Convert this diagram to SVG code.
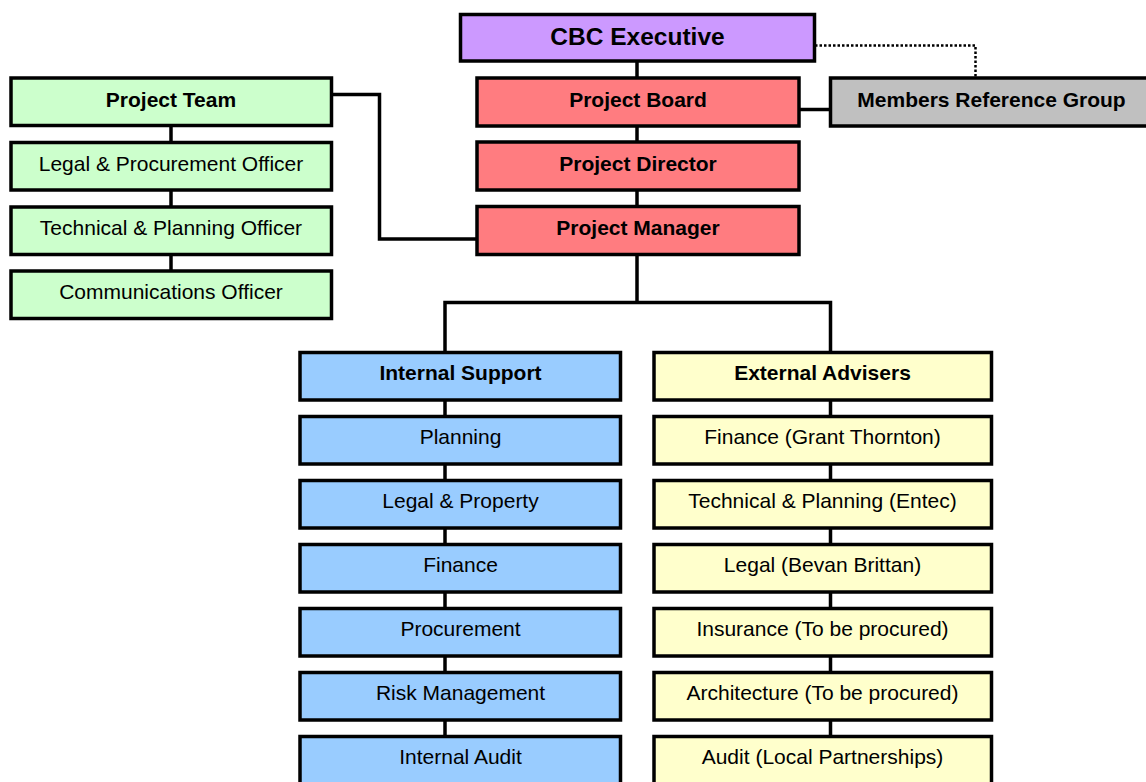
<svg xmlns="http://www.w3.org/2000/svg" width="1146" height="782" viewBox="0 0 1146 782">
<style>
.box{stroke:#000;stroke-width:3.5}
.t{font-family:"Liberation Sans",Arial,sans-serif;font-size:21px;fill:#000;text-anchor:middle}
.b{font-weight:bold}
.purple{fill:#CC99FF}.red{fill:#FF7C80}.grey{fill:#C0C0C0}.green{fill:#CCFFCC}.blue{fill:#99CCFF}.yellow{fill:#FFFFCC}
.c{fill:none;stroke:#000;stroke-width:3.5}
.d{fill:none;stroke:#000;stroke-width:2.5;stroke-dasharray:2.5 2}
</style>
<rect width="1146" height="782" fill="#fff"/>
<g id="connectors">
<path class="d" d="M815,45.5 H975.5 V78"/>
<path class="c" d="M637,61 V206"/>
<path class="c" d="M799,109.5 H830"/>
<path class="c" d="M331,94.5 H379.5 V239 H477"/>
<path class="c" d="M171,125 V271"/>
<path class="c" d="M637,254 V302.5 M445,352 V302.5 H830.5 V352"/>
<path class="c" d="M445,400 V736"/>
<path class="c" d="M830.5,400 V736"/>
</g>
<g id="cbc-executive"><rect class="box purple" x="460.5" y="14.5" width="354" height="46.5"/><text class="t b" x="637.5" y="45" style="font-size:24.5px">CBC Executive</text></g>
<g id="project-board"><rect class="box red" x="477" y="78" width="322" height="48"/><text class="t b" x="638" y="106.5">Project Board</text></g>
<g id="members-reference-group"><rect class="box grey" x="830.5" y="78" width="323" height="48"/><text class="t b" x="991.5" y="106.5">Members Reference Group</text></g>
<g id="project-director"><rect class="box red" x="477" y="142" width="322" height="48"/><text class="t b" x="638" y="170.5">Project Director</text></g>
<g id="project-manager"><rect class="box red" x="477" y="206.5" width="322" height="48"/><text class="t b" x="638" y="235">Project Manager</text></g>
<g id="project-team"><rect class="box green" x="11" y="78" width="320.5" height="47.5"/><text class="t b" x="171" y="106.5">Project Team</text></g>
<g id="legal-procurement-officer"><rect class="box green" x="11" y="142.5" width="320.5" height="47.5"/><text class="t" x="171" y="170.5">Legal &amp; Procurement Officer</text></g>
<g id="technical-planning-officer"><rect class="box green" x="11" y="207" width="320.5" height="47.5"/><text class="t" x="171" y="235">Technical &amp; Planning Officer</text></g>
<g id="communications-officer"><rect class="box green" x="11" y="271" width="320.5" height="47.5"/><text class="t" x="171" y="299">Communications Officer</text></g>
<g id="internal-support"><rect class="box blue" x="300" y="352.5" width="320.5" height="47.5"/><text class="t b" x="460.5" y="380">Internal Support</text></g>
<g id="planning"><rect class="box blue" x="300" y="416.5" width="320.5" height="47.5"/><text class="t" x="460.5" y="444">Planning</text></g>
<g id="legal-property"><rect class="box blue" x="300" y="480.5" width="320.5" height="47.5"/><text class="t" x="460.5" y="508">Legal &amp; Property</text></g>
<g id="finance"><rect class="box blue" x="300" y="544.5" width="320.5" height="47.5"/><text class="t" x="460.5" y="572">Finance</text></g>
<g id="procurement"><rect class="box blue" x="300" y="608.5" width="320.5" height="47.5"/><text class="t" x="460.5" y="636">Procurement</text></g>
<g id="risk-management"><rect class="box blue" x="300" y="672.5" width="320.5" height="47.5"/><text class="t" x="460.5" y="700">Risk Management</text></g>
<g id="internal-audit"><rect class="box blue" x="300" y="736.5" width="320.5" height="47.5"/><text class="t" x="460.5" y="764">Internal Audit</text></g>
<g id="external-advisers"><rect class="box yellow" x="654" y="352.5" width="337.5" height="47.5"/><text class="t b" x="822.5" y="380">External Advisers</text></g>
<g id="finance-gt"><rect class="box yellow" x="654" y="416.5" width="337.5" height="47.5"/><text class="t" x="822.5" y="444">Finance (Grant Thornton)</text></g>
<g id="technical-planning-entec"><rect class="box yellow" x="654" y="480.5" width="337.5" height="47.5"/><text class="t" x="822.5" y="508">Technical &amp; Planning (Entec)</text></g>
<g id="legal-bevan-brittan"><rect class="box yellow" x="654" y="544.5" width="337.5" height="47.5"/><text class="t" x="822.5" y="572">Legal (Bevan Brittan)</text></g>
<g id="insurance"><rect class="box yellow" x="654" y="608.5" width="337.5" height="47.5"/><text class="t" x="822.5" y="636">Insurance (To be procured)</text></g>
<g id="architecture"><rect class="box yellow" x="654" y="672.5" width="337.5" height="47.5"/><text class="t" x="822.5" y="700">Architecture (To be procured)</text></g>
<g id="audit"><rect class="box yellow" x="654" y="736.5" width="337.5" height="47.5"/><text class="t" x="822.5" y="764">Audit (Local Partnerships)</text></g>
</svg>
